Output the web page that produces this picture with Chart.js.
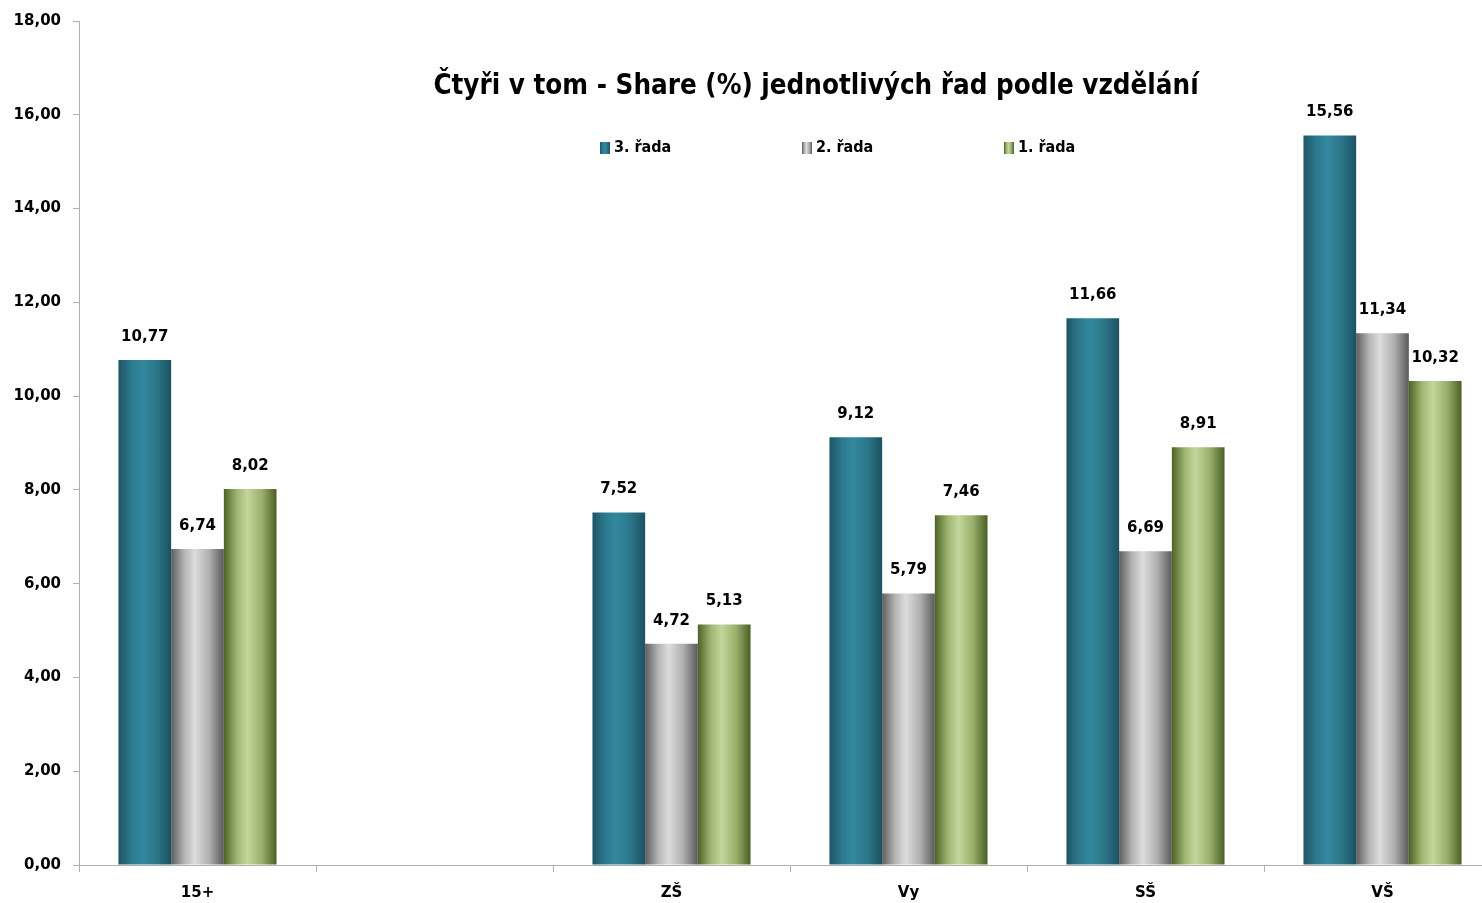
<!DOCTYPE html>
<html>
<head>
<meta charset="utf-8">
<script src="https://cdn.jsdelivr.net/npm/chart.js@4.4.1/dist/chart.umd.min.js"></script>
<style>
html,body{margin:0;padding:0;background:#fff;overflow:hidden;width:1482px;height:903px;}
canvas{display:block;}
</style>
</head>
<body>
<canvas id="c" width="1501" height="903"></canvas>
<script>
const categories = ["15+", "", "ZŠ", "Vy", "SŠ", "VŠ"];
const seriesNames = ["3. řada", "2. řada", "1. řada"];
const rada3 = [10.77, null, 7.52, 9.12, 11.66, 15.56];
const rada2 = [6.74, null, 4.72, 5.79, 6.69, 11.34];
const rada1 = [8.02, null, 5.13, 7.46, 8.91, 10.32];
const yTicksMax = 18;
const yTicksStep = 2;
const chartTitle = "Čtyři v tom - Share (%) jednotlivých řad podle vzdělání";

const palettes = [
  ["#1e5566", "#2c7a8f", "#33889e", "#2b7689", "#1d5162"],
  ["#5e5e5e", "#b5b5b5", "#dcdcdc", "#b0b0b0", "#5a5a5a"],
  ["#4d6326", "#9fb673", "#c3d69c", "#9ab06c", "#4a6024"]
];
const CAT_PCT = 0.667;

function fmt(v){ return v.toFixed(2).replace('.', ','); }

function makeGrad(ctx, x0, w, pal){
  const g = ctx.createLinearGradient(x0, 0, x0 + w, 0);
  g.addColorStop(0, pal[0]);
  g.addColorStop(0.25, pal[1]);
  g.addColorStop(0.45, pal[2]);
  g.addColorStop(0.72, pal[3]);
  g.addColorStop(1, pal[4]);
  return g;
}

function barColor(di){
  return function(context){
    const chart = context.chart;
    if (!chart.chartArea || context.dataIndex === undefined) return palettes[di][2];
    const xs = chart.scales.x;
    const c = xs.getPixelForValue(context.dataIndex);
    const catW = xs.width / categories.length;
    const gw = catW * CAT_PCT;
    const bw = gw / 3;
    const left = c - gw / 2 + di * bw;
    return makeGrad(chart.ctx, left, bw, palettes[di]);
  };
}

const overlay = {
  id: 'overlay',
  afterDatasetsDraw(chart){
    const ctx = chart.ctx;
    ctx.save();
    ctx.fillStyle = '#000';
    ctx.font = 'bold 15px "DejaVu Sans"';
    ctx.textAlign = 'center';
    ctx.textBaseline = 'middle';
    chart.data.datasets.forEach((ds, di) => {
      const meta = chart.getDatasetMeta(di);
      meta.data.forEach((el, i) => {
        const v = ds.data[i];
        if (v === null || v === undefined) return;
        ctx.fillText(fmt(v), el.x, el.y - 23);
      });
    });
    ctx.font = 'bold 27.5px "DejaVu Sans Condensed"';
    ctx.fillText(chartTitle, 816, 87);
    const lx = [600, 802, 1004];
    ctx.font = 'bold 16px "DejaVu Sans Condensed"';
    ctx.textAlign = 'left';
    seriesNames.forEach((n, k) => {
      ctx.fillStyle = makeGrad(ctx, lx[k], 10, palettes[k]);
      ctx.fillRect(lx[k], 142, 10, 12);
      ctx.fillStyle = '#000';
      ctx.fillText(n, lx[k] + 14, 148);
    });
    ctx.restore();
  }
};

new Chart(document.getElementById('c'), {
  type: 'bar',
  data: {
    labels: categories,
    datasets: [
      { label: seriesNames[0], data: rada3, backgroundColor: barColor(0) },
      { label: seriesNames[1], data: rada2, backgroundColor: barColor(1) },
      { label: seriesNames[2], data: rada1, backgroundColor: barColor(2) }
    ]
  },
  options: {
    responsive: false,
    animation: false,
    devicePixelRatio: 1,
    layout: { padding: { top: 20, left: 0, right: 0, bottom: 0 } },
    datasets: { bar: { categoryPercentage: CAT_PCT, barPercentage: 1.0, borderWidth: 0 } },
    plugins: { legend: { display: false }, title: { display: false }, tooltip: { enabled: false } },
    scales: {
      x: {
        grid: { drawOnChartArea: false, tickLength: 7, color: '#b0b0b0', offset: true },
        border: { color: '#b0b0b0', width: 1 },
        ticks: { color: '#000', font: { family: '"DejaVu Sans"', weight: 'bold', size: 15 }, padding: 12, maxRotation: 0 },
        afterFit(s){ s.height = 38; }
      },
      y: {
        min: 0, max: yTicksMax,
        grid: { drawOnChartArea: false, tickLength: 6, color: '#b0b0b0' },
        border: { color: '#b0b0b0', width: 1 },
        ticks: { stepSize: yTicksStep, color: '#000', font: { family: '"DejaVu Sans"', weight: 'bold', size: 15 }, padding: 12, callback: v => fmt(v) },
        afterFit(s){ s.width = 79; }
      }
    }
  },
  plugins: [overlay]
});
</script>
</body>
</html>
